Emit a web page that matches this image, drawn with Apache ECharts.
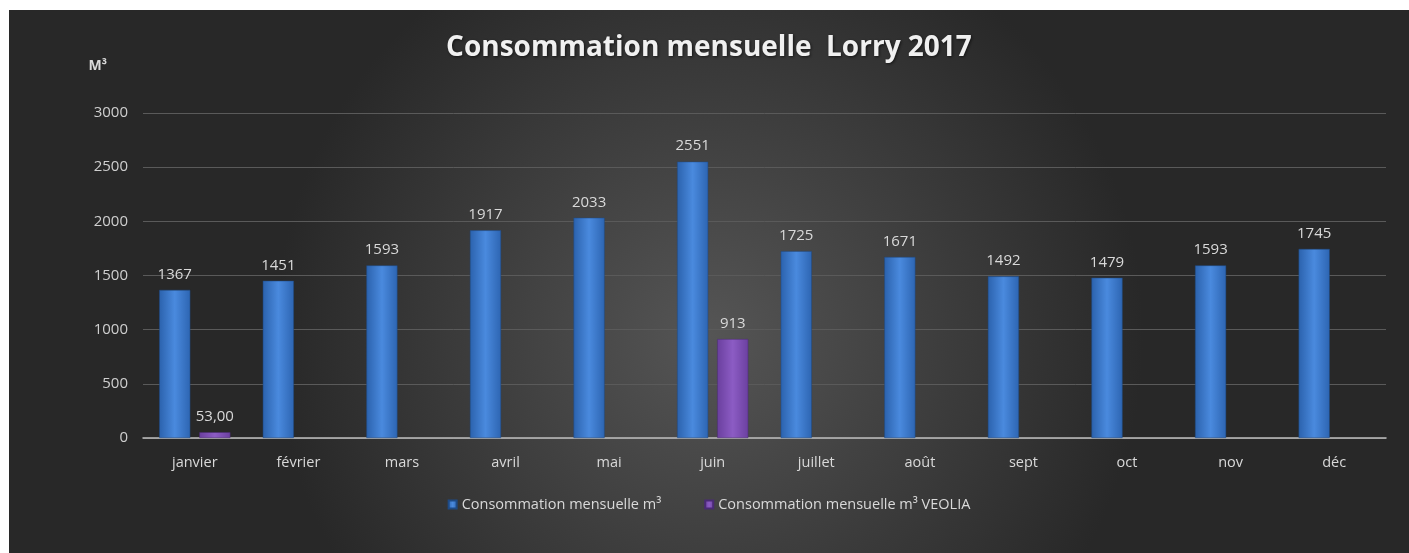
<!DOCTYPE html>
<html>
<head>
<meta charset="utf-8">
<script src="https://cdn.jsdelivr.net/npm/echarts@6/dist/echarts.min.js"></script>
<style>
  html, body { margin: 0; padding: 0; background: #fff; }
  #chart { position: absolute; left: 9px; top: 10px; width: 1400px; height: 543px; }
</style>
</head>
<body>
<div id="chart"></div>
<script>
// mois
var months = ['janvier', 'février', 'mars', 'avril', 'mai', 'juin', 'juillet', 'août', 'sept', 'oct', 'nov', 'déc']
// consommation mensuelle m³
var conso = [1367, 1451, 1593, 1917, 2033, 2551, 1725, 1671, 1492, 1479, 1593, 1745]
// consommation VEOLIA (seulement janvier et juin)
var veolia = [53, null, null, null, null, 913, null, null, null, null, null, null]
var veoliaDecimals = [2, 0, 0, 0, 0, 0, 0, 0, 0, 0, 0, 0]

var textColor = '#d9d9d9'
var font = '"Open Sans", "Noto Sans", sans-serif'

function barGradient(c1, c2, c3) {
  return new echarts.graphic.LinearGradient(0, 0, 1, 0, [
    { offset: 0, color: c1 },
    { offset: 0.5, color: c2 },
    { offset: 1, color: c3 },
  ])
}

var myChart = echarts.init(document.getElementById('chart'))
var option = {
  backgroundColor: new echarts.graphic.RadialGradient(0.5, 0.6, 0.8, [
    { offset: 0, color: '#555555' },
    { offset: 1, color: '#282828' },
  ]),
  textStyle: { fontFamily: font },
  title: {
    text: 'Consommation mensuelle  Lorry 2017',
    left: 'center',
    top: 19,
    textStyle: {
      color: '#f0f0f0', fontSize: 28, fontWeight: 'bold', fontFamily: font,
      textShadowColor: 'rgba(0,0,0,0.6)', textShadowBlur: 3, textShadowOffsetX: 1, textShadowOffsetY: 1,
    },
  },
  legend: {
    bottom: 36,
    left: 'center',
    itemWidth: 8,
    itemHeight: 8,
    itemGap: 43,
    icon: 'rect',
    textStyle: { color: textColor, fontSize: 14.5 },
    data: ['Consommation mensuelle m³', 'Consommation mensuelle m³ VEOLIA'],
  },
  grid: { left: 134, right: 23, top: 103, bottom: 115 },
  xAxis: {
    type: 'category',
    data: months,
    axisLine: { lineStyle: { color: '#bfbfbf', width: 1.5 } },
    axisTick: { show: false },
    axisLabel: { color: textColor, fontSize: 14.5, margin: 17 },
  },
  yAxis: {
    type: 'value',
    min: 0,
    max: 3000,
    interval: 500,
    name: 'M³',
    nameLocation: 'end',
    nameGap: 40,
    nameTextStyle: { color: textColor, fontSize: 14, fontWeight: 'bold', align: 'right', padding: [0, 36, 0, 0] },
    axisLine: { show: false },
    axisTick: { show: false },
    axisLabel: {
      color: '#cfcfcf', fontSize: 15, margin: 15,
      formatter: function (v) { return String(v) },
    },
    splitLine: { lineStyle: { color: '#5a5a5a', width: 1 } },
  },
  series: [
    {
      name: 'Consommation mensuelle m³',
      type: 'bar',
      data: conso,
      barWidth: '30%',
      barGap: '29%',
      itemStyle: {
        color: barGradient('#2b62ad', '#4a8ade', '#2d65b2'),
        borderColor: '#1e4a85',
        borderWidth: 0.5,
      },
      label: { show: true, position: 'top', distance: 8, color: textColor, fontSize: 15 },
    },
    {
      name: 'Consommation mensuelle m³ VEOLIA',
      type: 'bar',
      data: veolia,
      barWidth: '30%',
      itemStyle: {
        color: barGradient('#6a3f9e', '#8c5cc4', '#6b40a0'),
        borderColor: '#4a2a75',
        borderWidth: 0.5,
      },
      label: {
        show: true,
        position: 'top',
        distance: 8,
        color: textColor,
        fontSize: 15,
        formatter: function (p) {
          return p.value.toFixed(veoliaDecimals[p.dataIndex]).replace('.', ',')
        },
      },
    },
  ],
}
myChart.setOption(option)
</script>
</body>
</html>
